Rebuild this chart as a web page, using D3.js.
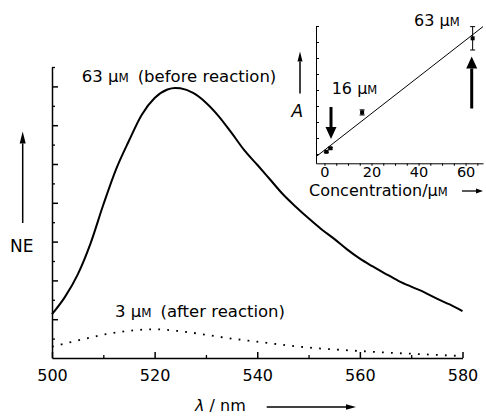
<!DOCTYPE html>
<html>
<head>
<meta charset="utf-8">
<script src="https://cdn.jsdelivr.net/npm/d3@7"></script>
<style>
  body { margin: 0; background: #fff; }
  text { font-family: "DejaVu Sans", sans-serif; fill: #000; }
</style>
</head>
<body>
<div id="chart"></div>
<script>
// emission spectrum before reaction (63 uM)
const wavelengths = [500, 502.5, 505, 507.5, 510, 512.5, 515, 517.5, 520, 522.5, 524, 525, 527.5, 530,
  532.5, 535, 537.5, 540, 542.5, 545, 547.5, 550, 552.5, 555, 557.5, 560, 562.5, 565, 567.5, 570,
  572.5, 575, 577.5, 580];
const beforeNE = [1.13, 1.57, 2.15, 2.95, 3.95, 4.87, 5.6, 6.27, 6.7, 6.92, 6.96, 6.95, 6.83, 6.58,
  6.23, 5.8, 5.35, 4.98, 4.6, 4.22, 3.9, 3.6, 3.32, 3.07, 2.8, 2.56, 2.36, 2.17, 1.99, 1.84,
  1.7, 1.53, 1.38, 1.21];

// after reaction (3 uM)
const afterWl = [500, 505, 510, 515, 520, 525, 530, 535, 540, 545, 550, 555, 560, 565, 570, 575, 580];
const afterNE = [0.29, 0.45, 0.6, 0.7, 0.74, 0.69, 0.6, 0.5, 0.42, 0.34, 0.27, 0.22, 0.18, 0.14, 0.11, 0.08, 0.05];

const xTicksMain = [500, 520, 540, 560, 580];

// inset: absorbance vs concentration
const concentration = [0.8, 2.5, 16, 63];
const absorbance = [0.114, 0.136, 0.36, 0.823];
const absErr = [0.005, 0.005, 0.016, 0.073];
const fitConc = [-3.6, 67.4];
const fitAbs = [0.083, 0.896];
const concTicks = [0, 20, 40, 60];

const svg = d3.select("#chart").append("svg")
  .attr("width", 486)
  .attr("height", 416);

// ---- main chart ----
const x = d3.scaleLinear().domain([500, 580]).range([52, 462.5]);
const y = d3.scaleLinear().domain([0, 7.5]).range([358, 67]);

function styleAxis(g, w) {
  g.selectAll("path, line").attr("stroke", "#000").attr("stroke-width", w);
  g.selectAll("text").attr("font-family", "DejaVu Sans, sans-serif").attr("font-size", 16).attr("fill", "#000");
}

svg.append("g")
  .attr("transform", "translate(0,358)")
  .call(d3.axisBottom(x).tickValues([510, 530, 550, 570]).tickSize(-3).tickFormat(""))
  .call(g => g.select(".domain").remove())
  .call(g => styleAxis(g, 1.3));

svg.append("g")
  .attr("transform", "translate(0,358)")
  .call(d3.axisBottom(x).tickValues(xTicksMain).tickSize(-6).tickSizeOuter(0).tickPadding(12))
  .call(g => styleAxis(g, 1.5));

svg.append("g")
  .attr("transform", "translate(52,0)")
  .call(d3.axisLeft(y).tickValues(d3.range(0.5, 7.6, 1)).tickSize(-3).tickFormat(""))
  .call(g => g.select(".domain").remove())
  .call(g => styleAxis(g, 1.3));

svg.append("g")
  .attr("transform", "translate(52,0)")
  .call(d3.axisLeft(y).tickValues(d3.range(1, 7.1, 1)).tickSize(-6).tickSizeOuter(0).tickFormat(""))
  .call(g => styleAxis(g, 1.5));

const line = d3.line().curve(d3.curveMonotoneX);

svg.append("path")
  .attr("d", line(wavelengths.map((w, i) => [x(w), y(beforeNE[i])])))
  .attr("fill", "none")
  .attr("stroke", "#000")
  .attr("stroke-width", 2);

svg.append("path")
  .attr("d", line(afterWl.map((w, i) => [x(w), y(afterNE[i])])))
  .attr("fill", "none")
  .attr("stroke", "#000")
  .attr("stroke-width", 1.8)
  .attr("stroke-dasharray", "1.8 7.2");

function label(px, py, parts, size) {
  const t = svg.append("text").attr("x", px).attr("y", py).attr("font-size", size);
  parts.forEach(p => {
    const s = t.append("tspan").text(p.t);
    if (p.small) s.attr("font-size", size * 0.72);
    if (p.it) s.attr("font-style", "italic");
    if (p.dx) s.attr("dx", p.dx);
  });
  return t;
}

label(81.7, 81.5, [{ t: "63 µ" }, { t: "M", small: true }, { t: "(before reaction)", dx: 9 }], 16.5);
label(115, 316.5, [{ t: "3 µ" }, { t: "M", small: true }, { t: "(after reaction)", dx: 9 }], 16.5);
label(10, 252, [{ t: "NE" }], 17);
label(195, 411, [{ t: "λ", it: true }, { t: " / nm" }], 16);

function arrow(x1, y1, x2, y2, w, headL, headW) {
  const a = Math.atan2(y2 - y1, x2 - x1);
  const bx = x2 - headL * Math.cos(a), by = y2 - headL * Math.sin(a);
  const nx = -Math.sin(a), ny = Math.cos(a);
  svg.append("line").attr("x1", x1).attr("y1", y1).attr("x2", bx).attr("y2", by)
    .attr("stroke", "#000").attr("stroke-width", w);
  svg.append("path")
    .attr("d", `M${x2},${y2}L${bx + nx * headW / 2},${by + ny * headW / 2}L${bx - nx * headW / 2},${by - ny * headW / 2}Z`)
    .attr("fill", "#000");
}

arrow(22.7, 223, 22.7, 131.5, 1.5, 12, 6);
arrow(266.7, 407, 356, 407, 1.5, 10, 5.5);

// ---- inset ----
const xi = d3.scaleLinear().domain([-3.6, 67.4]).range([316, 483]);
const yi = d3.scaleLinear().domain([0.042, 0.9]).range([163.3, 26]);

svg.append("g")
  .attr("transform", "translate(0,163.3)")
  .call(d3.axisBottom(xi).tickValues(d3.range(0, 66, 5)).tickSize(2.5).tickSizeOuter(0).tickFormat(""))
  .call(g => styleAxis(g, 1));

svg.append("g")
  .attr("transform", "translate(0,163.3)")
  .call(d3.axisBottom(xi).tickValues(concTicks).tickSize(0).tickPadding(3.5))
  .call(g => g.select(".domain").remove())
  .call(g => styleAxis(g, 1))
  .call(g => g.selectAll("text").attr("font-size", 14.5));

svg.append("g")
  .attr("transform", "translate(316,0)")
  .call(d3.axisLeft(yi).tickValues(d3.range(0.1, 0.91, 0.1)).tickSize(-3).tickSizeOuter(0).tickFormat(""))
  .call(g => styleAxis(g, 1));

svg.append("path")
  .attr("d", d3.line()(fitConc.map((c, i) => [xi(c), yi(fitAbs[i])])))
  .attr("stroke", "#000")
  .attr("stroke-width", 1)
  .attr("fill", "none");

const pts = svg.append("g");
concentration.forEach((c, i) => {
  const cx = xi(c);
  const top = yi(absorbance[i] + absErr[i]), bot = yi(absorbance[i] - absErr[i]);
  pts.append("line").attr("x1", cx).attr("x2", cx).attr("y1", top).attr("y2", bot)
    .attr("stroke", "#000").attr("stroke-width", 1);
  [top, bot].forEach(v => pts.append("line").attr("x1", cx - 2.5).attr("x2", cx + 2.5)
    .attr("y1", v).attr("y2", v).attr("stroke", "#000").attr("stroke-width", 1));
  pts.append("rect").attr("x", cx - 2).attr("y", yi(absorbance[i]) - 2)
    .attr("width", 4).attr("height", 4).attr("fill", "#000");
});

label(414, 26, [{ t: "63 µ" }, { t: "M", small: true }], 16);
label(331.7, 94, [{ t: "16 µ" }, { t: "M", small: true }], 16);
label(291.5, 116.5, [{ t: "A", it: true }], 17);
label(309, 196, [{ t: "Concentration/µ" }, { t: "M", small: true }], 16);

arrow(300, 93.5, 300, 51.5, 1.5, 10, 5);
arrow(462, 191, 483, 191, 1.3, 7, 5);
arrow(331, 107, 331, 139, 3, 12, 11);
arrow(471.7, 108.5, 471.7, 56.5, 3, 12, 11);
</script>
</body>
</html>
